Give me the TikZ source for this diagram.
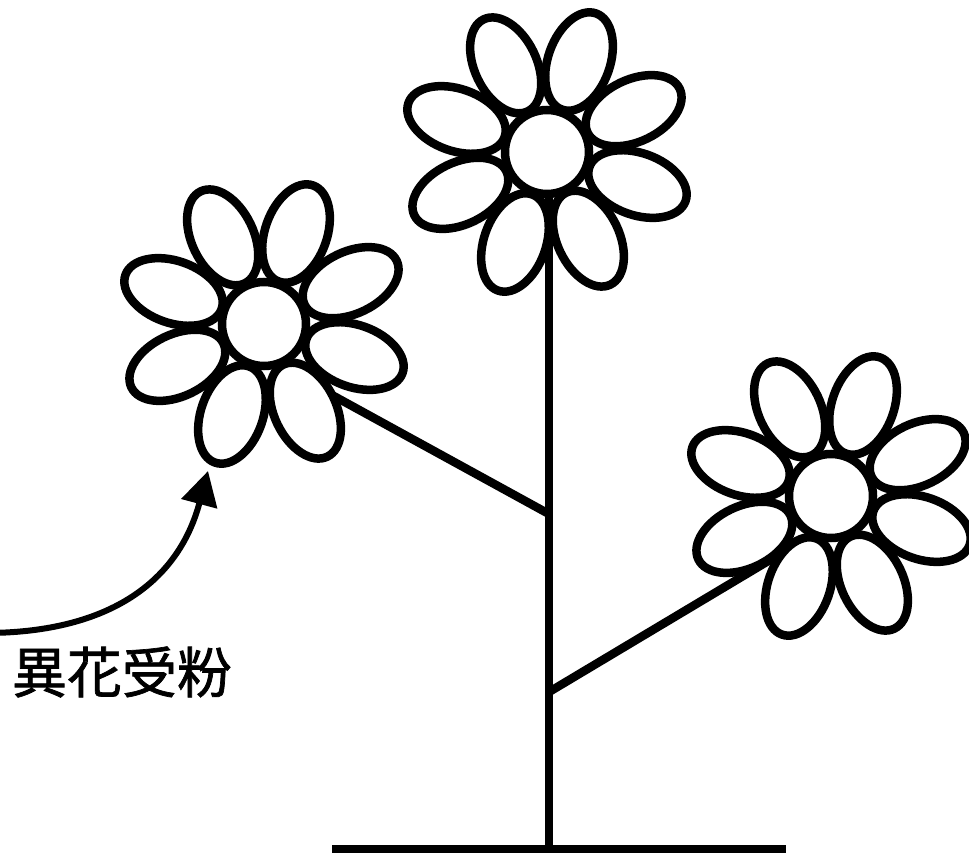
\documentclass[tikz,border=0pt]{standalone}
\usepackage{fontspec}
\newfontfamily\cjk[RawFeature={embolden=1.3}]{Noto Sans CJK JP}
\usepackage{tikz}
\usetikzlibrary{arrows.meta,shapes}

\begin{document}
\begin{tikzpicture}[x=1pt,y=1pt]

		\useasboundingbox (0,0) rectangle (969,-853);
		\tikzstyle{every node}=[font=\cjk\fontsize{55}{60}\selectfont]
		\tikzstyle{stalk}=[line width=8.5pt]
		\tikzstyle{petal}=[line width=8.5pt,fill=white]
		\tikzstyle{heart}=[circle,draw,line width=8.5pt,fill=white,inner sep=0pt,minimum size=84pt]
		
		% stem, ground and side branches
		\coordinate (stemtop) at (549,-152);
		\coordinate (stembottom) at (549,-849);
		\coordinate (groundleft) at (332,-849);
		\coordinate (groundright) at (786,-849);
		\coordinate (leftjoin) at (549,-514);
		\coordinate (lefttip) at (290,-372);
		\coordinate (rightjoin) at (549,-692);
		\coordinate (righttip) at (790,-548);
		
		\draw[stalk] (stemtop) -- (stembottom);
		\draw[line width=7.5pt] (groundleft) -- (groundright);
		\draw[stalk] (leftjoin) -- (lefttip);
		\draw[stalk] (rightjoin) -- (righttip);
		
		% top flower
		\begin{scope}[shift={(547,-152)}]
		\foreach \k in {0,...,7}
			\draw[petal,rotate={25.5+45*\k}] (96,0) ellipse (51 and 31);
		\node[heart] (topflower) at (0,0) {};
		\end{scope}
		
		% left flower
		\begin{scope}[shift={(264,-324)}]
		\foreach \k in {0,...,7}
			\draw[petal,rotate={25.5+45*\k}] (96,0) ellipse (51 and 31);
		\node[heart] (leftflower) at (0,0) {};
		\end{scope}
		
		% right flower
		\begin{scope}[shift={(831,-496)}]
		\foreach \k in {0,...,7}
			\draw[petal,rotate={25.5+45*\k}] (96,0) ellipse (51 and 31);
		\node[heart] (rightflower) at (0,0) {};
		\end{scope}
		
		% pollen coming in from outside
		\coordinate (pollen) at (-15,-633);
		\coordinate (landing) at (208,-471);
		\draw[line width=6pt,-{Triangle[length=34pt,width=36pt]}] (pollen) to[out=0,in=255,looseness=1.1] (landing);
		
		\node (crosslabel) at (122,-672) {異花受粉};
		
\end{tikzpicture}
\end{document}
